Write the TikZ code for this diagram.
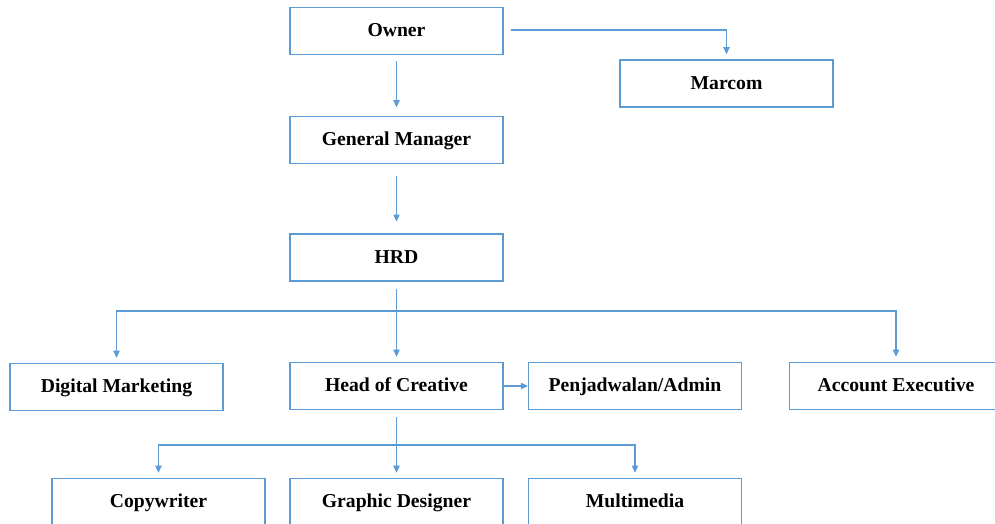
\documentclass[tikz,border=0pt]{standalone}
\usepackage{fontspec}
\setmainfont{Liberation Serif}
\usetikzlibrary{arrows.meta}
\definecolor{boxblue}{RGB}{91,155,213}
\tikzset{
  unit/.style={draw=boxblue, line width=0.6pt, minimum width=4.26cm, minimum height=0.94cm,
    inner sep=0pt, text height=9pt, text depth=2.2pt, font=\fontsize{11.2}{13}\selectfont\bfseries},
  link/.style={draw=boxblue, line width=0.6pt, ->, >={Triangle[length=4pt,width=3.6pt]}}
}
\begin{document}
\begin{tikzpicture}[x=0.02cm, y=-0.02cm]
\useasboundingbox (0,0) rectangle (995,524);
\node[unit] (O) at (396.5,31) {Owner};
\node[unit] (M) at (726.5,83.5) {Marcom};
\node[unit] (GM) at (396.5,140) {General Manager};
\node[unit] (HRD) at (396.5,257.5) {HRD};
\node[unit] (DM) at (116.5,387) {Digital Marketing};
\node[unit] (HC) at (396.5,386) {Head of Creative};
\node[unit] (PA) at (635,386) {Penjadwalan/Admin};
\node[unit] (AE) at (896,386) {Account Executive};
\node[unit] (CW) at (158.5,502) {Copywriter};
\node[unit] (GD) at (396.5,502) {Graphic Designer};
\node[unit] (MM) at (635,502) {Multimedia};
\coordinate (S1) at (396.5,311);
\coordinate (S2) at (396.5,445);
\draw[link, shorten >=3pt] ([xshift=0.14cm,yshift=0.02cm]O.east) -| (M.north);
\draw[link, shorten <=3.4pt, shorten >=5pt] (O) -- (GM);
\draw[link, shorten <=6.8pt, shorten >=6.8pt] (GM) -- (HRD);
\draw[link, shorten <=4pt, shorten >=3pt] (HRD) -- (HC);
\draw[link, shorten >=3pt] (S1) -| (DM.north);
\draw[link, shorten >=3pt] (S1) -| (AE.north);
\draw[link] (HC) -- (PA);
\draw[link, shorten <=4pt, shorten >=3pt] (HC) -- (GD);
\draw[link, shorten >=3pt] (S2) -| (CW.north);
\draw[link, shorten >=3pt] (S2) -| (MM.north);
\end{tikzpicture}
\end{document}
